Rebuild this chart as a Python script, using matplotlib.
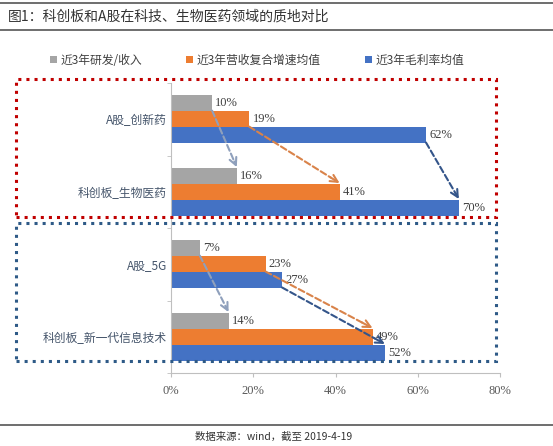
import numpy as np
import matplotlib
matplotlib.use("Agg")
import matplotlib.pyplot as plt
import matplotlib.patches as patches
from matplotlib.lines import Line2D

plt.rcParams['font.family'] = ['Noto Sans CJK SC', 'DejaVu Sans']

# 数据
categories = ['A股_创新药', '科创板_生物医药', 'A股_5G', '科创板_新一代信息技术']
series_names = ['近3年研发/收入', '近3年营收复合增速均值', '近3年毛利率均值']
rd_ratio = [0.10, 0.16, 0.07, 0.14]
rev_growth = [0.19, 0.41, 0.23, 0.49]
gross_margin = [0.62, 0.70, 0.27, 0.52]
x_ticks = [0, 0.2, 0.4, 0.6, 0.8]

colors = ['#a5a5a5', '#ed7d31', '#4472c4']
arrow_colors = ['#8fa0bc', '#d9834a', '#34558a']

fig = plt.figure(figsize=(5.53, 4.46), dpi=100)
ax = fig.add_axes([0.3092, 0.1637, 0.595, 0.650])

y = np.arange(len(categories))
h = 0.22
offsets = [-h, 0, h]
all_series = [rd_ratio, rev_growth, gross_margin]

bars = []
for vals, off, c, name in zip(all_series, offsets, colors, series_names):
    b = ax.barh(y + off, vals, height=h, color=c, label=name)
    bars.append(b)
    for yi, v in zip(y + off, vals):
        ax.text(v + 0.008, yi, f"{v*100:.0f}%", va='center', ha='left',
                fontsize=9, color='#404040', family='Liberation Serif')

# 箭头：A股 -> 科创板
for a, b_ in [(0, 1), (2, 3)]:
    for vals, off, c in zip(all_series, offsets, arrow_colors):
        start = np.array([vals[a], a + off + 0.1])
        end = np.array([vals[b_], b_ + off - 0.12])
        mid = start + 0.9 * (end - start)
        ax.annotate('', xy=mid, xytext=start,
                    arrowprops=dict(arrowstyle='-', color=c, lw=1.5,
                                    linestyle=(0, (3, 1.5)),
                                    shrinkA=0, shrinkB=0))
        ax.annotate('', xy=end, xytext=mid,
                    arrowprops=dict(arrowstyle='->', color=c, lw=1.5,
                                    mutation_scale=13, shrinkA=0, shrinkB=0))

ax.set_ylim(len(categories) - 0.5, -0.5)
ax.set_xlim(0, 0.8)
ax.set_xticks(x_ticks)
ax.set_xticklabels([f"{t*100:.0f}%" for t in x_ticks], family='Liberation Serif',
                   fontsize=9, color='#595959')
ax.set_yticks(y)
ax.set_yticklabels(categories, fontsize=8.5, color='#44546a')
ax.set_yticks(np.arange(len(categories) + 1) - 0.5, minor=True)
ax.tick_params(axis='y', which='major', length=0, pad=3)
ax.tick_params(axis='y', which='minor', length=3, color='#bfbfbf')
ax.tick_params(axis='x', length=3, color='#bfbfbf', pad=6)
for s in ['top', 'right']:
    ax.spines[s].set_visible(False)
for s in ['left', 'bottom']:
    ax.spines[s].set_color('#bfbfbf')

# 图例
fig.legend(handles=bars, labels=series_names, loc='center', ncol=3,
           bbox_to_anchor=(0.465, 0.865), frameon=False, fontsize=8.5,
           handlelength=0.6, handleheight=0.6, handletextpad=0.3,
           columnspacing=3.7, labelcolor='#404040')

# 虚线框
fig.add_artist(patches.Rectangle((0.0289, 0.5135), 0.868, 0.3094, fill=False,
                                 edgecolor='#c00000', linestyle=':', lw=2.2,
                                 transform=fig.transFigure))
fig.add_artist(patches.Rectangle((0.0289, 0.1906), 0.868, 0.3094, fill=False,
                                 edgecolor='#2e5a87', linestyle=':', lw=2.2,
                                 transform=fig.transFigure))

# 标题与来源
fig.add_artist(Line2D([0, 1], [1 - 3 / 446, 1 - 3 / 446], color='#555555', lw=1.2,
                      transform=fig.transFigure))
fig.add_artist(Line2D([0, 1], [1 - 30 / 446, 1 - 30 / 446], color='#555555', lw=1.2,
                      transform=fig.transFigure))
fig.text(0.014, 1 - 17 / 446, '图1：科创板和A股在科技、生物医药领域的质地对比',
         fontsize=10, color='#333333', va='center', ha='left')
fig.add_artist(Line2D([0, 1], [1 - 425 / 446, 1 - 425 / 446], color='#555555', lw=1.2,
                      transform=fig.transFigure))
fig.text(0.494, 1 - 437 / 446, '数据来源：wind，截至 2019-4-19',
         fontsize=7.5, color='#333333', va='center', ha='center')

fig.savefig('out.png', dpi=100)
